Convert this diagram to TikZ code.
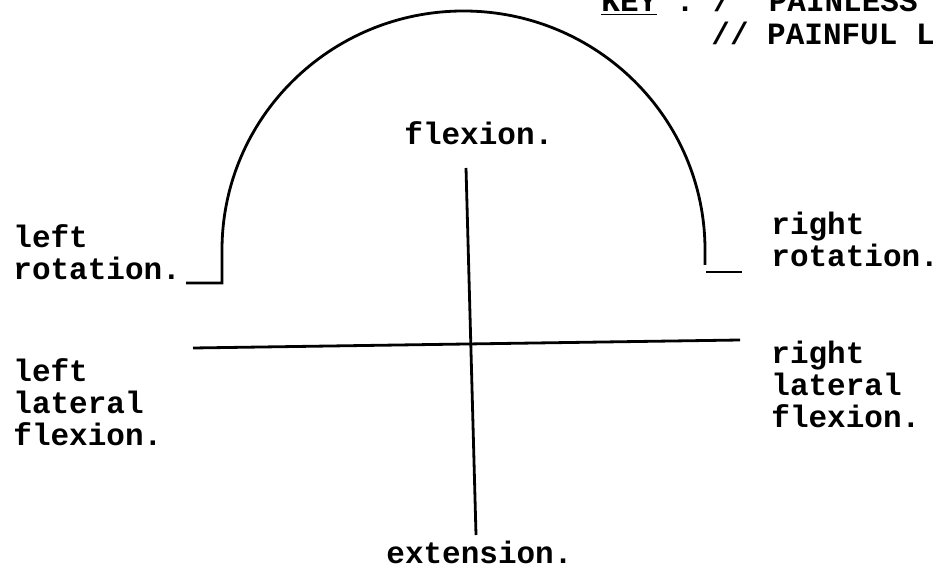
\documentclass[tikz,border=0pt]{standalone}
\usepackage{fontspec}
\setmonofont{Liberation Mono}
\usepackage{tikz}

\begin{document}
\begin{tikzpicture}[x=0.5pt, y=-0.5pt, line width=1.4pt,
    lbl/.style={inner sep=0pt, anchor=base west, align=left,
        font=\ttfamily\bfseries\fontsize{15.5pt}{16pt}\selectfont}]
    \useasboundingbox (0, 0) rectangle (940, 576);
    % range of movement arc
    \draw (186, 283) -- (222, 283) -- (222, 250)
        arc[start angle=180, end angle=360, x radius=241.5, y radius=239]
        -- (705, 265);
    \draw (706, 272) -- (742, 272);
    % axes
    \coordinate (top) at (466, 168);
    \coordinate (bottom) at (476, 535);
    \coordinate (west) at (193, 348);
    \coordinate (east) at (740, 340);
    \draw (top) -- (bottom);
    \draw (west) -- (east);
    % labels (anchor = baseline of last line)
    \node[lbl] (flex) at (403, 145) {flexion.};
    \node[lbl] (ext) at (385, 563) {extension.};
    \node[lbl] (lrot) at (12, 280) {left\\rotation.};
    \node[lbl] (rrot) at (770, 267) {right\\rotation.};
    \node[lbl] (llat) at (12, 445) {left\\lateral\\flexion.};
    \node[lbl] (rlat) at (770, 427) {right\\lateral\\flexion.};
    \node[lbl] (key1) at (600, 12) {\underline{KEY} : /\ \ PAINLESS};
    \node[lbl] (key2) at (710, 45) {// PAINFUL L};
\end{tikzpicture}
\end{document}
